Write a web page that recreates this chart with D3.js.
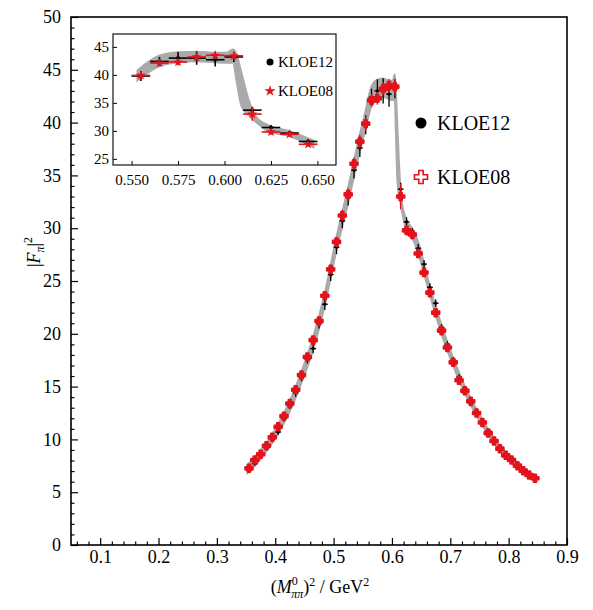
<!DOCTYPE html>
<html><head><meta charset="utf-8">
<script src="https://cdn.jsdelivr.net/npm/d3@7"></script>
<style>
body{margin:0;background:#fff}
</style>
</head><body>
<svg id="c" width="593" height="610"></svg>
<script>
// ---- data ----
const massSq = [0.355,0.365,0.375,0.385,0.395,0.405,0.415,0.425,0.435,0.445,
  0.455,0.465,0.475,0.485,0.495,0.505,0.515,0.525,0.535,0.545,
  0.555,0.565,0.575,0.585,0.595,0.605,0.615,0.625,0.635,0.645,
  0.655,0.665,0.675,0.685,0.695,0.705,0.715,0.725,0.735,0.745,
  0.755,0.765,0.775,0.785,0.795,0.805,0.815,0.825,0.835,0.845];
const kloe08 = [7.26,8.05,8.59,9.40,10.2,11.2,12.2,13.4,14.7,16.1,
  17.8,19.4,21.2,23.6,26.1,28.7,31.2,33.2,36.1,38.2,
  39.9,42.1,42.3,43.2,43.5,43.4,33.0,29.8,29.4,27.6,
  25.8,23.9,22.0,20.3,18.7,17.3,15.6,14.6,13.6,12.5,
  11.6,10.6,9.85,9.12,8.49,8.05,7.51,7.04,6.63,6.32];
const kloe08Err = [0.15,0.15,0.17,0.18,0.2,0.22,0.24,0.26,0.28,0.3,
  0.33,0.35,0.38,0.42,0.45,0.5,0.55,0.58,0.62,0.65,
  0.7,0.6,0.6,0.6,0.65,0.65,1.2,0.5,0.45,0.45,
  0.42,0.4,0.36,0.33,0.3,0.28,0.25,0.23,0.21,0.2,
  0.18,0.17,0.16,0.15,0.14,0.13,0.12,0.12,0.11,0.11];
const kloe12 = [7.1,7.7,8.5,9.2,10.0,10.7,12.0,13.2,14.4,15.9,
  17.6,18.6,21.0,22.8,25.6,28.2,30.7,32.9,35.5,37.6,
  39.8,42.4,43.0,43.0,42.7,43.2,33.7,30.6,29.6,28.1,
  26.6,24.4,22.9,20.6,19.0,17.5,15.9,14.8,13.7,12.6,
  11.7,10.8,9.9,9.2,8.5,8.0,7.5,7.0,6.6,6.3];
const kloe12Err = [0.2,0.2,0.22,0.24,0.26,0.28,0.3,0.33,0.36,0.4,
  0.42,0.45,0.5,0.55,0.6,0.65,0.7,0.75,0.8,0.85,
  0.9,0.8,1.1,1.2,1.2,0.9,0.6,0.45,0.4,0.4,
  0.4,0.38,0.35,0.32,0.3,0.28,0.26,0.24,0.22,0.2,
  0.19,0.18,0.17,0.16,0.15,0.14,0.13,0.13,0.12,0.12];
const binHalfWidth = 0.005;
const bandX  = [0.352,0.365,0.385,0.405,0.425,0.445,0.465,0.485,0.505,0.525,0.545,0.553,0.565,0.575,0.585,0.595,0.601,0.6045,0.6063,0.609,0.6134,0.617,0.624,0.635,0.648,0.655,0.665,0.685,0.705,0.725,0.745,0.765,0.785,0.805,0.825,0.848];
const bandLo = [6.75,7.45,8.85,10.5,12.6,15.3,18.4,22.6,27.8,32.3,37.2,38.9,41.5,42.2,42.4,42.2,42.1,42.1,39.0,34.4,32.6,31.5,29.8,29.0,27.0,25.6,23.6,19.9,16.9,14.3,12.2,10.4,8.9,7.75,6.8,6.05];
const bandHi = [7.6,8.35,9.75,11.5,13.7,16.5,19.8,24.0,29.3,34.0,39.0,40.8,43.5,44.1,44.2,44.0,44.0,44.6,44.0,40.7,35.3,32.6,31.0,30.0,28.3,26.7,24.6,20.9,17.8,15.1,12.9,11.0,9.45,8.25,7.25,6.5];
const xTicksMain = [0.1,0.2,0.3,0.4,0.5,0.6,0.7,0.8,0.9];
const yTicksMain = [0,5,10,15,20,25,30,35,40,45,50];
const xTicksInset = [0.550,0.575,0.600,0.625,0.650];
const yTicksInset = [25,30,35,40,45];
const insetBandRange = [0.553, 0.648];
const seriesNames = ["KLOE12","KLOE08"];

// ---- pick an installed Times-like serif font ----
function fontAvailable(name){
  const c = document.createElement("canvas").getContext("2d");
  const s = "KLOE12 0.550 mmmwwwlli";
  return ["monospace","sans-serif"].some(g=>{
    c.font = `40px ${g}`; const w0 = c.measureText(s).width;
    c.font = `40px "${name}", ${g}`; return c.measureText(s).width !== w0;
  });
}
const FONT_NAME = ["Liberation Serif","Tinos","Times New Roman","Nimbus Roman","DejaVu Serif","Noto Serif"].find(fontAvailable);
const FONT = FONT_NAME ? `"${FONT_NAME}", serif` : "serif";

// ---- styles ----
const RED = "#e3121b", GRAY = "#aaaaaa";
const svg = d3.select("#c").attr("font-family",FONT).style("font-family",FONT);

const x = d3.scaleLinear().domain([0.05,0.9]).range([71,567]);
const y = d3.scaleLinear().domain([0,50]).range([545,17]);

const band = bandX.map((v,i)=>({x:v, lo:bandLo[i], hi:bandHi[i]}));
const s08 = massSq.map((v,i)=>({x:v, y:kloe08[i], e:kloe08Err[i]}));
const s12 = massSq.map((v,i)=>({x:v, y:kloe12[i], e:kloe12Err[i]}));

function drawBand(g, xs, ys, data){
  const area = d3.area().x(d=>xs(d.x)).y0(d=>ys(d.lo)).y1(d=>ys(d.hi)).curve(d3.curveMonotoneX);
  g.append("path").datum(data).attr("d",area).attr("fill",GRAY).attr("stroke",GRAY).attr("stroke-width",1.4);
}
function drawErr(g, data, xs, ys, color, sw){
  const e = g.append("g").attr("stroke",color).attr("stroke-width",sw);
  e.selectAll("line.h").data(data).join("line")
    .attr("x1",d=>xs(d.x-binHalfWidth)).attr("x2",d=>xs(d.x+binHalfWidth))
    .attr("y1",d=>ys(d.y)).attr("y2",d=>ys(d.y));
  e.selectAll("line.v").data(data).join("line")
    .attr("x1",d=>xs(d.x)).attr("x2",d=>xs(d.x))
    .attr("y1",d=>ys(d.y-d.e)).attr("y2",d=>ys(d.y+d.e));
}

// ---- main plot ----
const main = svg.append("g");
drawBand(main, x, y, band);
drawErr(main, s12, x, y, "#000", 1.3);
main.append("g").selectAll("circle").data(s12).join("circle")
  .attr("cx",d=>x(d.x)).attr("cy",d=>y(d.y)).attr("r",1.6).attr("fill","#000");
drawErr(main, s08, x, y, RED, 1.3);
main.append("g").selectAll("path").data(s08).join("path")
  .attr("transform",d=>`translate(${x(d.x)},${y(d.y)})`)
  .attr("d",d3.symbol(d3.symbolCross,30))
  .attr("fill",RED).attr("stroke",RED).attr("stroke-width",2.2).attr("stroke-linejoin","round");

// axes main
const fmt1 = d3.format(".1f");
const gx = svg.append("g").attr("transform","translate(0,545)")
  .call(d3.axisBottom(x).tickValues(xTicksMain).tickSize(-7).tickPadding(5).tickFormat(fmt1));
const minorX = d3.range(3,45).map(k=>+(k*0.02).toFixed(2)).filter(v=>v>0.05 && v<0.9 && Math.abs(v*10-Math.round(v*10))>1e-6);
svg.append("g").attr("transform","translate(0,545)")
  .call(d3.axisBottom(x).tickValues(minorX).tickSize(-3.5).tickFormat(""));
const gy = svg.append("g").attr("transform","translate(71,0)")
  .call(d3.axisLeft(y).tickValues(yTicksMain).tickSize(-7).tickPadding(10).tickFormat(d3.format("d")));
const minorY = d3.range(1,50).filter(v=>v%5!==0);
svg.append("g").attr("transform","translate(71,0)")
  .call(d3.axisLeft(y).tickValues(minorY).tickSize(-3.5).tickFormat(""));
svg.selectAll(".domain").remove();
svg.selectAll(".tick line").attr("stroke","#000").attr("stroke-width",1.2);
svg.selectAll("g").attr("font-family",FONT);
gx.selectAll("text").attr("font-size",18).attr("fill","#000");
gy.selectAll("text").attr("font-size",18).attr("fill","#000");
svg.append("rect").attr("x",71).attr("y",17).attr("width",496).attr("height",528)
  .attr("fill","none").attr("stroke","#000").attr("stroke-width",1.6);

// axis titles
const xt = svg.append("text").attr("font-size",18).attr("y",593).attr("x",0);
xt.append("tspan").text("(");
xt.append("tspan").attr("font-style","italic").text("M");
xt.append("tspan").attr("font-size",12).attr("dy",-8).text("0");
xt.append("tspan").attr("font-size",12).attr("font-style","italic").attr("dx",-6.5).attr("dy",13).text("ππ");
xt.append("tspan").attr("dy",-5).text(")");
xt.append("tspan").attr("font-size",12).attr("dy",-7).text("2");
xt.append("tspan").attr("dy",7).text(" / GeV");
xt.append("tspan").attr("font-size",12).attr("dy",-7).text("2");
const bb = xt.node().getBBox();
xt.attr("x", 320 - bb.width/2);

const yt = svg.append("text").attr("font-size",18)
  .attr("transform","translate(40,252) rotate(-90)").attr("text-anchor","middle");
yt.append("tspan").text("|");
yt.append("tspan").attr("font-style","italic").text("F");
yt.append("tspan").attr("font-size",12).attr("font-style","italic").attr("dy",4).text("π");
yt.append("tspan").attr("dy",-4).text("|");
yt.append("tspan").attr("font-size",12).attr("dy",-8).text("2");

// main legend
svg.append("circle").attr("cx",421).attr("cy",123).attr("r",5.5).attr("fill","#000");
svg.append("text").attr("x",437).attr("y",130).attr("font-size",20).text(seriesNames[0]);
svg.append("path").attr("transform","translate(421,177)").attr("d",d3.symbol(d3.symbolCross,95))
  .attr("fill","#fff").attr("stroke",RED).attr("stroke-width",1.6);
svg.append("text").attr("x",437).attr("y",184).attr("font-size",20).text(seriesNames[1]);

// ---- inset ----
const ix = d3.scaleLinear().domain([0.54,0.66]).range([113,336]);
const iy = d3.scaleLinear().domain([23.9,47.3]).range([165,34]);
svg.append("defs").append("clipPath").attr("id","ic").append("rect")
  .attr("x",113).attr("y",34).attr("width",223).attr("height",131);
svg.append("rect").attr("x",113).attr("y",34).attr("width",223).attr("height",131).attr("fill","#fff");
const ins = svg.append("g").attr("clip-path","url(#ic)");
drawBand(ins, ix, iy, band.filter(d=>d.x>=insetBandRange[0] && d.x<=insetBandRange[1]));
const in12 = s12.filter(d=>d.x>0.55 && d.x<0.65);
const in08 = s08.filter(d=>d.x>0.55 && d.x<0.65);
drawErr(ins, in12, ix, iy, "#000", 1.6);
ins.append("g").selectAll("circle").data(in12).join("circle")
  .attr("cx",d=>ix(d.x)).attr("cy",d=>iy(d.y)).attr("r",2).attr("fill","#000");
drawErr(ins, in08, ix, iy, RED, 1.6);
ins.append("g").selectAll("path").data(in08).join("path")
  .attr("transform",d=>`translate(${ix(d.x)},${iy(d.y)})`)
  .attr("d",d3.symbol(d3.symbolStar,30)).attr("fill",RED);

const igx = svg.append("g").attr("transform","translate(0,165)")
  .call(d3.axisBottom(ix).tickValues(xTicksInset).tickSize(-4).tickPadding(9).tickFormat(d3.format(".3f")));
const igy = svg.append("g").attr("transform","translate(113,0)")
  .call(d3.axisLeft(iy).tickValues(yTicksInset).tickSize(-4).tickPadding(4).tickFormat(d3.format("d")));
[igx,igy].forEach(g=>{
  g.attr("font-family",FONT);
  g.select(".domain").remove();
  g.selectAll(".tick line").attr("stroke","#000").attr("stroke-width",1);
  g.selectAll("text").attr("font-size",15).attr("fill","#000");
});
svg.append("rect").attr("x",113).attr("y",34).attr("width",223).attr("height",131)
  .attr("fill","none").attr("stroke","#000").attr("stroke-width",1.1);
// inset legend
svg.append("circle").attr("cx",270).attr("cy",62).attr("r",3.5).attr("fill","#000");
svg.append("text").attr("x",278).attr("y",67).attr("font-size",15).text(seriesNames[0]);
svg.append("path").attr("transform","translate(270,91)").attr("d",d3.symbol(d3.symbolStar,40)).attr("fill",RED);
svg.append("text").attr("x",278).attr("y",96).attr("font-size",15).text(seriesNames[1]);
</script>
</body></html>
